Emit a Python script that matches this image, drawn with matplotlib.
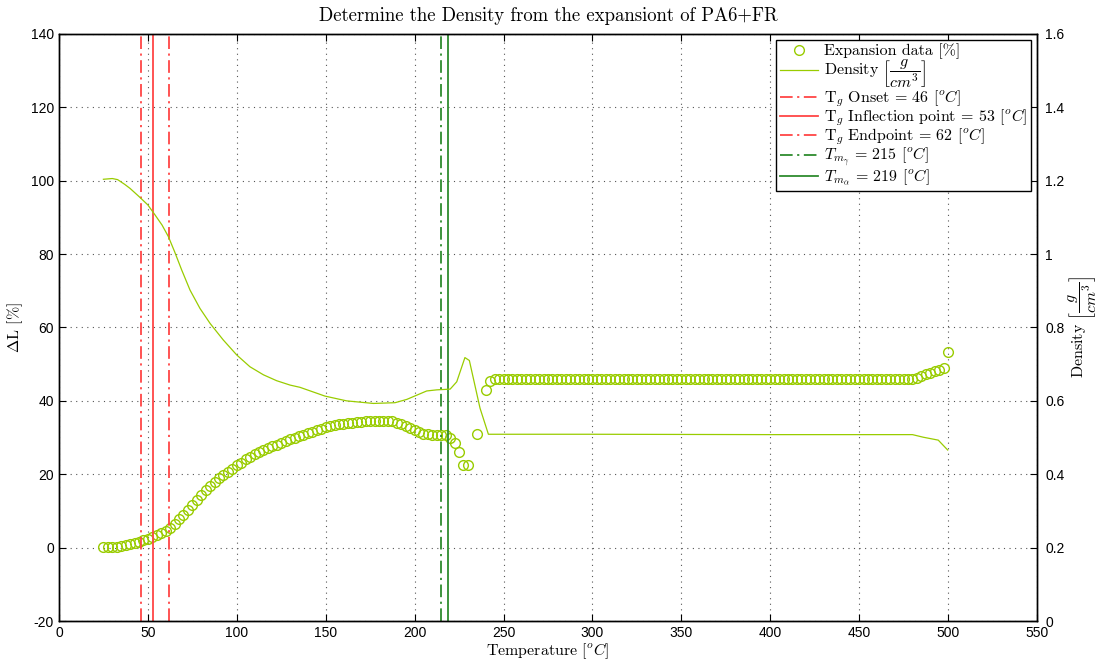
import numpy as np
import matplotlib
matplotlib.use('Agg')
import matplotlib.pyplot as plt
from matplotlib.font_manager import FontProperties

# temperature grid of the dilatometer run [°C]
temperature = np.arange(25, 500.1, 2.5)

# measured expansion dL [%], nan where no sample was logged
expansion = [
    0.1, 0.1, 0.1, 0.2, 0.4, 0.7, 1.0, 1.3, 1.6, 2.0,
    2.4, 2.9, 3.4, 4.0, 4.6, 5.4, 6.5, 7.7, 9.0, 10.3,
    11.7, 13.0, 14.3, 15.6, 16.8, 18.0, 19.0, 19.9, 20.7, 21.5,
    22.4, 23.2, 24.1, 24.8, 25.5, 26.2, 26.7, 27.2, 27.7, 28.1,
    28.6, 29.0, 29.5, 30.0, 30.4, 30.8, 31.2, 31.6, 32.0, 32.4,
    32.8, 33.1, 33.4, 33.6, 33.8, 34.0, 34.1, 34.2, 34.3, 34.4,
    34.5, 34.5, 34.5, 34.5, 34.5, 34.4, 34.1, 33.6, 33.1, 32.5,
    32.0, 31.5, 31.1, 30.9, 30.8, 30.8, 30.8, 30.6, 30.0, 28.6,
    26.0, 22.4, 22.4, np.nan, 31.0, np.nan, 43.0, 45.5,
    46.0, 46.0, 46.0, 46.0, 46.0, 46.0, 46.0, 46.0, 46.0, 46.0,
    46.0, 46.0, 46.0, 46.0, 46.0, 46.0, 46.0, 46.0, 46.0, 46.0,
    46.0, 46.0, 46.0, 46.0, 46.0, 46.0, 46.0, 46.0, 46.0, 46.0,
    46.0, 46.0, 46.0, 46.0, 46.0, 46.0, 46.0, 46.0, 46.0, 46.0,
    46.0, 46.0, 46.0, 46.0, 46.0, 46.0, 46.0, 46.0, 46.0, 46.0,
    46.0, 46.0, 46.0, 46.0, 46.0, 46.0, 46.0, 46.0, 46.0, 46.0,
    46.0, 46.0, 46.0, 46.0, 46.0, 46.0, 46.0, 46.0, 46.0, 46.0,
    46.0, 46.0, 46.0, 46.0, 46.0, 46.0, 46.0, 46.0, 46.0, 46.0,
    46.0, 46.0, 46.0, 46.0, 46.0, 46.0, 46.0, 46.0, 46.0, 46.0,
    46.0, 46.0, 46.0, 46.0, 46.0,
    46.3, 46.8, 47.3, 47.7, 48.1, 48.5, 49.0, 53.4,
]

# density computed from the expansion [g/cm^3]
density_temp = [25, 30, 33, 37, 40, 45, 50, 54, 58, 61.5, 65, 69, 73.7, 79.3, 85,
                92.4, 100, 107.4, 115, 122.4, 130, 135.5, 149.6, 161.8, 176.8, 189,
                195.6, 206.8, 212.4, 220, 223.7, 228.3, 230.8, 236.8, 241.5, 300,
                400, 480, 486, 494.5, 499.8]
density = [1.204, 1.206, 1.203, 1.190, 1.179, 1.157, 1.134, 1.107, 1.079, 1.048, 1.007,
           0.957, 0.902, 0.852, 0.811, 0.766, 0.725, 0.693, 0.671, 0.655, 0.643, 0.637,
           0.613, 0.600, 0.593, 0.595, 0.604, 0.627, 0.630, 0.632, 0.652, 0.718, 0.710,
           0.580, 0.509, 0.509, 0.508, 0.508, 0.501, 0.493, 0.466]

# characteristic temperatures [°C]
tg_onset = 46
tg_inflection = 53
tg_endpoint = 62
tm_gamma = 215
tm_alpha = 219

plt.rcParams['font.family'] = 'Liberation Sans'
plt.rcParams['mathtext.fontset'] = 'cm'
plt.rcParams['axes.unicode_minus'] = False

label_font = FontProperties(family='cmr10', size=11.5)
legend_font = FontProperties(family='cmr10', size=11.5)
green_yellow = '#99cc00'
red = '#ff4545'
green = '#2e8b2e'
dashdot = (0, (7, 2.5, 1.2, 2.5))
density_unit = r'$\left[\dfrac{g}{cm^3}\right]$'

fig = plt.figure(figsize=(10.98, 6.61), dpi=100)
ax = fig.add_axes([0.0537, 0.0605, 0.8907, 0.8881])
ax2 = ax.twinx()

h_exp, = ax.plot(temperature, expansion, 'o', color=green_yellow, mfc='none',
                 markersize=7, markeredgewidth=1.0, linestyle='none')
h_den, = ax2.plot(density_temp, density, '-', color=green_yellow, linewidth=0.9)

h1 = ax.axvline(tg_onset, color=red, linestyle=dashdot, linewidth=1.3)
h2 = ax.axvline(tg_inflection, color=red, linestyle='-', linewidth=1.3)
h3 = ax.axvline(tg_endpoint, color=red, linestyle=dashdot, linewidth=1.3)
h4 = ax.axvline(tm_gamma, color=green, linestyle=dashdot, linewidth=1.3)
h5 = ax.axvline(tm_alpha, color=green, linestyle='-', linewidth=1.3)

ax.set_xlim(0, 550)
ax.set_ylim(-20, 140)
ax.set_xticks(np.arange(0, 551, 50))
ax.set_yticks(np.arange(-20, 141, 20))
ax2.set_ylim(0, 1.6)
ax2.set_yticks(np.arange(0, 1.61, 0.2))
ax2.set_yticklabels(['0', '0.2', '0.4', '0.6', '0.8', '1', '1.2', '1.4', '1.6'])

ax.grid(True, linestyle=(0, (1, 4)), color='#555555', linewidth=0.8)
ax.tick_params(direction='in', top=True, right=False, labelsize=10, length=5)
ax2.tick_params(direction='in', labelsize=10, length=5, pad=6)
for a in (ax, ax2):
    for s in a.spines.values():
        s.set_linewidth(1.0)

ax.set_title('Determine the Density from the expansiont of PA6+FR',
             fontproperties=FontProperties(family='cmr10', size=13.5), pad=9)
ax.set_xlabel(r'Temperature [$^oC$]', fontproperties=label_font, labelpad=1)
ax.set_ylabel(r'$\Delta$L [%]', fontproperties=label_font, labelpad=4)
ax2.set_ylabel('Density ' + density_unit, fontproperties=label_font, labelpad=1)

labels = [
    'Expansion data [%]',
    'Density ' + density_unit,
    r'T$_g$ Onset = 46 [$^oC$]',
    r'T$_g$ Inflection point = 53 [$^oC$]',
    r'T$_g$ Endpoint = 62 [$^oC$]',
    r'$T_{m_\gamma}$ = 215 [$^oC$]',
    r'$T_{m_\alpha}$ = 219 [$^oC$]',
]
leg = ax2.legend([h_exp, h_den, h1, h2, h3, h4, h5], labels, loc='upper right',
                 prop=legend_font, numpoints=1, handlelength=2.4, fancybox=False,
                 edgecolor='black', framealpha=1, borderaxespad=0.35,
                 labelspacing=-0.1, handletextpad=0.4, borderpad=0.25)
leg.get_frame().set_linewidth(1.0)

fig.savefig('out.png', dpi=100)
